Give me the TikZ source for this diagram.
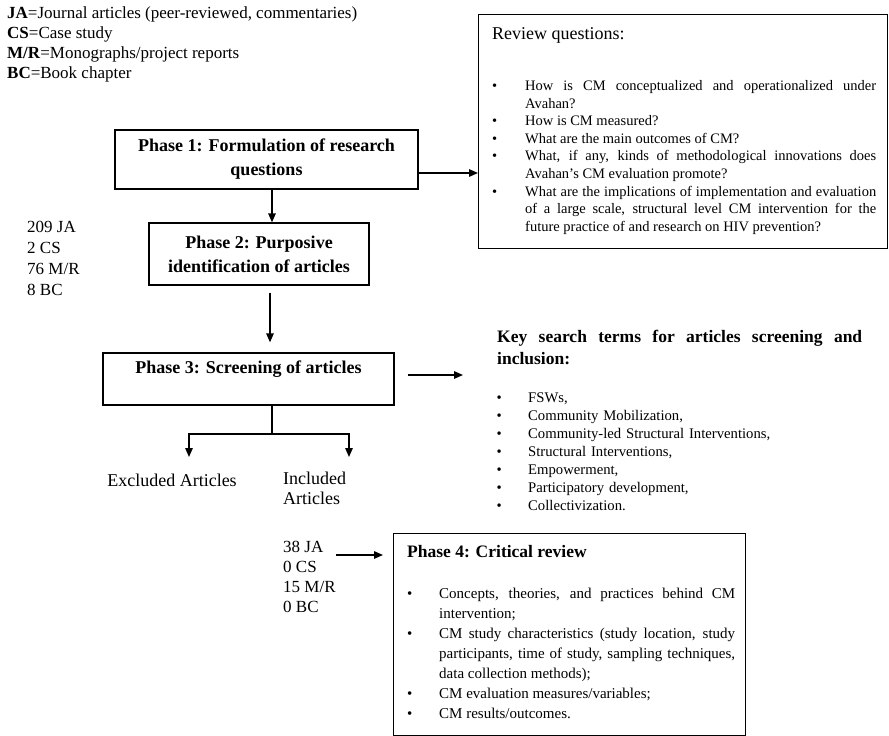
\documentclass[tikz,border=0pt]{standalone}
\usepackage{fontspec}
\setmainfont{Liberation Serif}
\usetikzlibrary{arrows.meta}
% bullet item with hanging indent: #1 = indent, #2 = item text
\newcommand\bitem[2]{\par\noindent\hangindent=#1\hangafter=1\makebox[#1][l]{\strut\textbullet}\ignorespaces#2}
\begin{document}
\begin{tikzpicture}[x=1pt,y=-1pt,
  phasebox/.style={draw, line width=1.4pt, inner sep=0pt, align=center,
    font=\fontsize{18}{24}\selectfont\bfseries},
  panel/.style={draw, line width=1.4pt, inner sep=0pt, anchor=north west},
  txt/.style={inner sep=0pt, anchor=north west},
  link/.style={line width=1.4pt},
  arr/.style={line width=1.4pt, -{Triangle[length=9pt,width=7.5pt]}}]
\useasboundingbox (0,0) rectangle (889,736);

% legend of abbreviations
\node[txt, align=left, font=\fontsize{17}{20}\selectfont] (legend) at (7,4.5)
  {\strut\textbf{JA}=Journal articles (peer-reviewed, commentaries)\\
   \textbf{CS}=Case study\\
   \textbf{M/R}=Monographs/project reports\\
   \textbf{BC}=Book chapter};

% phase boxes
\node[phasebox, minimum width=303pt, minimum height=59pt] (p1) at (266.5,159.5)
  {Phase 1: Formulation of research\\questions};
\node[phasebox, minimum width=220pt, minimum height=62pt] (p2) at (259,254)
  {Phase 2: Purposive\\identification of articles};
\node[phasebox, minimum width=291pt, minimum height=52pt] (p3) at (248.5,379)
  {Phase 3: Screening of articles\\\mbox{}};

% review questions panel
\node[panel, minimum width=409pt, minimum height=234pt] (rq) at (478,14) {};
\node[txt, font=\fontsize{18}{22}\selectfont] (rqhead) at (492,23.6)
  {\strut Review questions:};
\node[txt, text width=384pt, align=justify, font=\fontsize{14.5}{17.6}\selectfont] (rqlist) at (492,72.7)
  {\tolerance=10000\hyphenpenalty=10000
   \bitem{33pt}{How is CM conceptualized and operationalized under\linebreak Avahan?}
   \bitem{33pt}{How is CM measured?}
   \bitem{33pt}{What are the main outcomes of CM?}
   \bitem{33pt}{What, if any, kinds of methodological innovations does\linebreak Avahan's CM evaluation promote?}
   \bitem{33pt}{What are the implications of implementation and evaluation\linebreak of a large scale, structural level CM intervention for the\linebreak future practice of and research on HIV prevention?}\par};

% counts of identified articles
\node[txt, align=left, font=\fontsize{17}{21}\selectfont] (cnt1) at (27,217.8)
  {\strut 209 JA\\2 CS\\76 M/R\\8 BC};

% key search terms
\node[txt, text width=365pt, align=justify, font=\fontsize{17.5}{22}\selectfont\bfseries] (kshead) at (497,327.1)
  {\tolerance=10000\strut Key search terms for articles screening and\linebreak inclusion:\par};
\node[txt, text width=380pt, align=left, font=\fontsize{14.7}{18}\selectfont] (kslist) at (496.5,384.4)
  {\bitem{31.5pt}{FSWs,}
   \bitem{31.5pt}{Community Mobilization,}
   \bitem{31.5pt}{Community-led Structural Interventions,}
   \bitem{31.5pt}{Structural Interventions,}
   \bitem{31.5pt}{Empowerment,}
   \bitem{31.5pt}{Participatory development,}
   \bitem{31.5pt}{Collectivization.}\par};

% screening outcome labels
\node[inner sep=0pt, anchor=north, font=\fontsize{18}{20}\selectfont] (excl) at (172,472)
  {\strut Excluded Articles};
\node[txt, align=left, font=\fontsize{18}{20}\selectfont] (incl) at (283,470)
  {\strut Included\\Articles};

% included counts
\node[txt, align=left, font=\fontsize{17}{20}\selectfont] (cnt2) at (283,538.5)
  {\strut 38 JA\\0 CS\\15 M/R\\0 BC};

% critical review panel
\node[panel, minimum width=352pt, minimum height=202pt] (p4) at (393,533) {};
\node[txt, font=\fontsize{17.5}{22}\selectfont\bfseries] (p4head) at (407,541.6)
  {\strut Phase 4: Critical review};
\node[txt, text width=328pt, align=justify, font=\fontsize{15}{20}\selectfont] (p4list) at (407,578)
  {\tolerance=10000\hyphenpenalty=10000
   \bitem{32pt}{Concepts, theories, and practices behind CM\linebreak intervention;}
   \bitem{32pt}{CM study characteristics (study location, study\linebreak participants, time of study, sampling techniques,\linebreak data collection methods);}
   \bitem{32pt}{CM evaluation measures/variables;}
   \bitem{32pt}{CM results/outcomes.}\par};

% connector end points
\coordinate (ksin) at (463,375);
\coordinate (split) at (272,434);
\coordinate (exc) at (189,457);
\coordinate (inc) at (349,457);
\coordinate (cntout) at (336,555);

% connectors
\draw[arr] ([yshift=-13.5pt]p1.east) -- ([yshift=-13.5pt]p1.east -| rq.west);
\draw[arr] ([xshift=5.5pt]p1.south) -- ([xshift=5.5pt]p1.south |- p2.north);
\draw[arr, shorten <=7pt, shorten >=10pt] ([xshift=11pt]p2.south) -- ([xshift=11pt]p2.south |- p3.north);
\draw[arr, shorten <=13pt] ([yshift=4pt]p3.east) -- (ksin);
\draw[link] ([xshift=23.5pt]p3.south) -- (split);
\draw[arr] (split) -| (exc);
\draw[arr] (split) -| (inc);
\draw[arr, shorten >=10pt] (cntout) -- (cntout -| p4.west);
\end{tikzpicture}
\end{document}
